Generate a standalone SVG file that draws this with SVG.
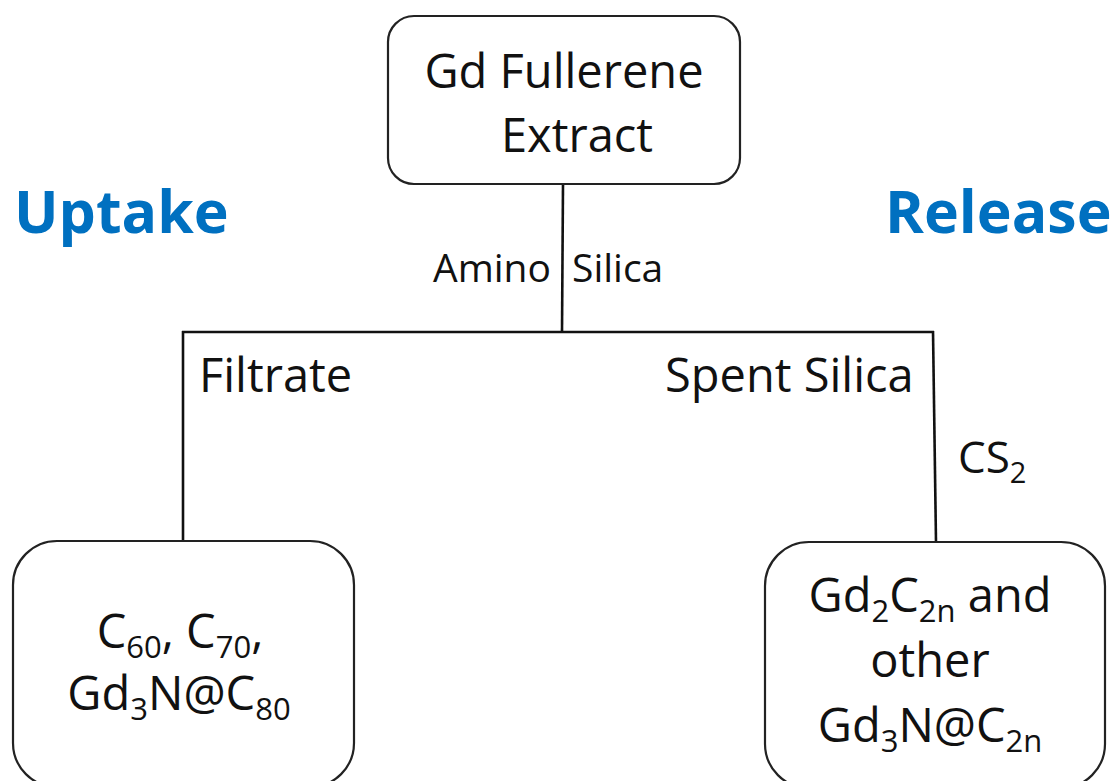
<svg xmlns="http://www.w3.org/2000/svg" width="1115" height="781" viewBox="0 0 1115 781">
<style>
.box{fill:#fff;stroke:#222;stroke-width:2.2}
.t{font-family:"Open Sans","Liberation Sans",sans-serif;font-size:47px;fill:#111}
.s{font-size:31px}
.m{font-size:39px}
.h{font-family:"Open Sans","Liberation Sans",sans-serif;font-size:59px;font-weight:bold;fill:#0070C0}
.c{fill:none;stroke:#111;stroke-width:2.6}
</style>
<rect width="1115" height="781" fill="#fff"/>
<g id="connectors">
<path class="c" d="M563,184 L562,332"/>
<path class="c" d="M182,332 L934,332"/>
<path class="c" d="M183,331 L183,541"/>
<path class="c" d="M933,331 L936,542"/>
</g>
<g id="labels">
<text class="t m" x="433" y="282">Amino</text>
<text class="t m" x="572" y="282">Silica</text>
<text class="t" x="199" y="392">Filtrate</text>
<text class="t" x="665" y="392">Spent Silica</text>
<text class="t" x="958" y="473" style="font-size:44px">CS<tspan dy="10" style="font-size:29px">2</tspan></text>
<text class="h" x="14" y="233">Uptake</text>
<text class="h" x="885" y="233">Release</text>
</g>
<g id="node-extract">
<rect class="box" x="388" y="16" width="352" height="168" rx="26"/>
<text class="t" x="564" y="88" text-anchor="middle">Gd Fullerene</text>
<text class="t" x="577" y="152" text-anchor="middle">Extract</text>
</g>
<g id="node-uptake">
<rect class="box" x="13" y="541" width="341" height="246" rx="44"/>
<text class="t" x="180" y="648" text-anchor="middle">C<tspan class="s" dy="10">60</tspan><tspan dy="-10">, C</tspan><tspan class="s" dy="10">70</tspan><tspan dy="-10">,</tspan></text>
<text class="t" x="179" y="710" text-anchor="middle">Gd<tspan class="s" dy="10">3</tspan><tspan dy="-10">N@C</tspan><tspan class="s" dy="10">80</tspan></text>
</g>
<g id="node-release">
<rect class="box" x="765" y="542" width="340" height="246" rx="44"/>
<text class="t" x="930" y="612" text-anchor="middle">Gd<tspan class="s" dy="10">2</tspan><tspan dy="-10">C</tspan><tspan class="s" dy="10">2n</tspan><tspan dy="-10"> and</tspan></text>
<text class="t" x="930" y="677" text-anchor="middle">other</text>
<text class="t" x="930" y="742" text-anchor="middle">Gd<tspan class="s" dy="10">3</tspan><tspan dy="-10">N@C</tspan><tspan class="s" dy="10">2n</tspan></text>
</g>
</svg>
